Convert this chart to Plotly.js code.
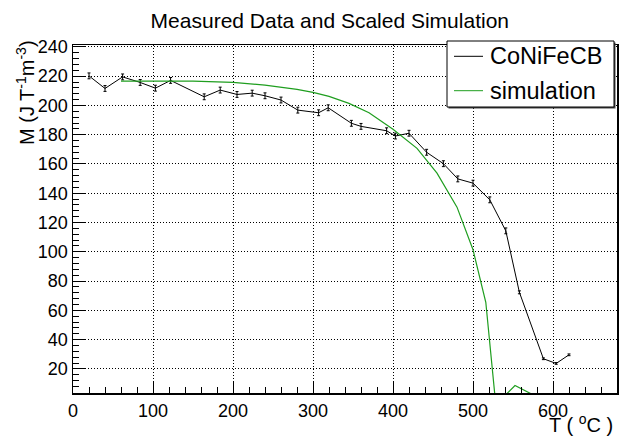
<!DOCTYPE html>
<html>
<head>
<meta charset="utf-8">
<script src="https://cdn.plot.ly/plotly-3.0.1.min.js"></script>
<style>html,body{margin:0;padding:0;background:#fff;}#chart{width:627px;height:438px;}</style>
</head>
<body>
<div id="chart"></div>
<script>
// Measured data (CoNiFeCB)
const measT = [20, 40, 62, 84, 103, 122, 164, 184, 205, 224, 240, 260, 281, 307, 319, 348, 360, 392, 403, 420, 442, 463, 481, 500, 521, 541, 558, 588, 604, 620];
const measM = [220.2, 211.6, 219.5, 215.7, 211.8, 217.1, 205.9, 210.5, 207.5, 208.4, 206.6, 203.7, 196.8, 195.0, 198.4, 187.8, 185.7, 182.7, 179.1, 181.0, 168.0, 160.2, 149.8, 146.9, 135.5, 114.3, 72.3, 26.9, 23.7, 29.6];
const measErr = [2, 2, 2, 2, 2, 2, 2, 2, 2, 2, 2, 2, 2, 2, 2, 2, 2, 2, 2, 2, 2, 2, 2, 2, 2, 2, 1, 0.6, 0.6, 0.6];
// Scaled simulation
const simT = [60, 100, 150, 200, 240, 280, 300, 320, 345, 370, 400, 430, 455, 480, 500, 516, 528.5, 552.5, 585];
const simM = [216.6, 216.7, 216.6, 215.7, 213.9, 211.0, 208.9, 206.2, 201.4, 195.0, 183.7, 170.7, 153.7, 130.5, 101.4, 65.5, -4.5, 8.6, -0.5];
// Axis ticks
const xTicks = [0, 100, 200, 300, 400, 500, 600];
const yTicks = [20, 40, 60, 80, 100, 120, 140, 160, 180, 200, 220, 240];
// Legend labels
const seriesNames = ["CoNiFeCB", "simulation"];
const seriesColors = ["#000000", "#1f9e1f"];

const FONT = "Liberation Sans, Arial, Helvetica, sans-serif";

const traces = [
  {
    x: measT, y: measM, name: seriesNames[0], type: "scatter", mode: "lines", showlegend: false,
    line: {color: seriesColors[0], width: 1},
    error_y: {type: "data", array: measErr, visible: true, color: "#000000", thickness: 1, width: 1.5}
  },
  {
    x: simT, y: simM, name: seriesNames[1], type: "scatter", mode: "lines", showlegend: false,
    line: {color: seriesColors[1], width: 1.2}
  }
];

const axisCommon = {
  showgrid: true, gridcolor: "#000000", gridwidth: 1, griddash: "1px,2px",
  ticks: "inside", ticklen: 12, tickwidth: 1, tickcolor: "#000000",
  showline: true, linecolor: "#000000", linewidth: 1.5, mirror: true,
  zeroline: false, tickfont: {family: FONT, size: 18, color: "#000000"}
};

// pixel -> paper helpers for the legend box (plot area: left 73, width 544, bottom 393, height 348)
const px = v => (v - 73) / 544;
const py = v => (393 - v) / 348;

const legendRows = [56.3, 90.7];
const shapes = [
  {type: "rect", xref: "paper", yref: "paper", x0: px(448.5), x1: px(615.5), y0: py(108.5), y1: py(42.5),
   line: {color: "#000000", width: 0}, fillcolor: "#444444", layer: "above"},
  {type: "rect", xref: "paper", yref: "paper", x0: px(447), x1: px(614), y0: py(107), y1: py(41),
   line: {color: "#000000", width: 1}, fillcolor: "#ffffff", layer: "above"}
];
const annotations = [
  {text: "T ( <sup>o</sup>C )", xref: "paper", yref: "paper", x: px(548), y: py(437.5),
   xanchor: "left", yanchor: "bottom", showarrow: false, borderpad: 0, font: {family: FONT, size: 20, color: "#000000"}},
  {text: "M (J T<sup>-1</sup>m<sup>-3</sup>)", xref: "paper", yref: "paper", x: -0.0864, y: 0.865,
   xanchor: "center", yanchor: "middle", textangle: -90, showarrow: false, font: {family: FONT, size: 20, color: "#000000"}}
];
seriesNames.forEach((n, i) => {
  shapes.push({type: "line", xref: "paper", yref: "paper", x0: px(454), x1: px(483), y0: py(legendRows[i]), y1: py(legendRows[i]),
               line: {color: seriesColors[i], width: 1}, layer: "above"});
  annotations.push({text: n, xref: "paper", yref: "paper", x: px(488), y: py(legendRows[i]),
                    xanchor: "left", yanchor: "middle", showarrow: false, font: {family: FONT, size: 23.5, color: "#000000"}});
});

const layout = {
  width: 627, height: 438,
  margin: {l: 73, r: 10, t: 45, b: 45, pad: 0},
  paper_bgcolor: "#ffffff", plot_bgcolor: "#ffffff",
  font: {family: FONT, color: "#000000"},
  title: {text: "Measured Data and Scaled Simulation", font: {family: FONT, size: 21, color: "#000000"},
          x: 0.526, xref: "container", xanchor: "center", y: 0.952, yref: "container", yanchor: "middle"},
  xaxis: Object.assign({}, axisCommon, {
    range: [0, 680], tickmode: "array", tickvals: xTicks, ticktext: xTicks.map(String), ticklabelstandoff: 1,
    minor: {dtick: 20, tick0: 0, ticks: "inside", ticklen: 6, tickcolor: "#000000", showgrid: false}
  }),
  yaxis: Object.assign({}, axisCommon, {
    range: [3.5, 241.3], tickmode: "array", tickvals: yTicks, ticktext: yTicks.map(String),
    minor: {dtick: 4, tick0: 0, ticks: "inside", ticklen: 6, tickcolor: "#000000", showgrid: false}
  }),
  showlegend: false,
  shapes: shapes,
  annotations: annotations
};

Plotly.newPlot("chart", traces, layout, {displayModeBar: false, staticPlot: true});
</script>
</body>
</html>
